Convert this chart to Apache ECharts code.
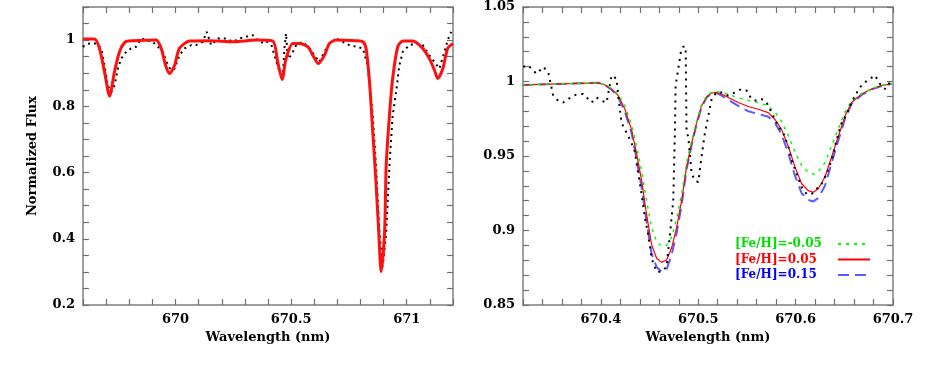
<!DOCTYPE html>
<html>
<head>
<meta charset="utf-8">
<script src="https://cdn.jsdelivr.net/npm/echarts@6/dist/echarts.min.js"></script>
<style>
  html, body { margin: 0; padding: 0; background: #fff; }
  #chart { width: 926px; height: 378px; }
</style>
</head>
<body>
<div id="chart"></div>
<script>
// left panel: wide window, model (red) and observed (dotted)
const leftModelWave = [669.60, 669.65, 669.671, 669.693, 669.715, 669.736, 669.758, 669.784, 669.816, 669.916,
  669.938, 669.957, 669.974, 669.996, 670.017, 670.061, 670.15, 670.248, 670.35, 670.421,
  670.442, 670.461, 670.478, 670.507, 670.536, 670.572, 670.594, 670.618, 670.644, 670.666,
  670.695, 670.78, 670.81, 670.824, 670.839, 670.853, 670.867, 670.879, 670.889, 670.904,
  670.911, 670.925, 670.939, 670.961, 670.983, 671.026, 671.069, 671.098, 671.12, 671.134,
  671.156, 671.177, 671.2];
const leftModelFlux = [1.003, 1.003, 0.975, 0.904, 0.831, 0.904, 0.965, 0.995, 0.998, 1.0,
  0.975, 0.924, 0.899, 0.924, 0.975, 0.997, 0.998, 0.995, 1.0, 0.997,
  0.934, 0.881, 0.944, 0.99, 0.99, 0.98, 0.954, 0.929, 0.954, 0.99,
  1.0, 0.998, 0.995, 0.975, 0.873, 0.722, 0.57, 0.418, 0.301, 0.418,
  0.62, 0.772, 0.884, 0.98, 0.997, 0.997, 0.975, 0.944, 0.909, 0.884,
  0.914, 0.975, 0.99];
const leftObsWave = [669.599, 669.628, 669.657, 669.679, 669.693, 669.707, 669.722, 669.736, 669.751, 669.765,
  669.787, 669.808, 669.83, 669.852, 669.873, 669.902, 669.945, 669.967, 669.981, 669.996,
  670.017, 670.039, 670.068, 670.089, 670.118, 670.135, 670.154, 670.183, 670.219, 670.248,
  670.277, 670.305, 670.334, 670.363, 670.392, 670.406, 670.428, 670.45, 670.464, 670.471,
  670.478, 670.486, 670.5, 670.522, 670.55, 670.579, 670.601, 670.622, 670.644, 670.666,
  670.695, 670.723, 670.752, 670.781, 670.81, 670.831, 670.853, 670.867, 670.882, 670.896,
  670.911, 670.925, 670.939, 670.954, 670.968, 670.983, 671.012, 671.04, 671.069, 671.098,
  671.12, 671.141, 671.163, 671.177, 671.192];
const leftObsFlux = [0.98, 0.99, 0.99, 0.975, 0.924, 0.863, 0.843, 0.863, 0.914, 0.944,
  0.965, 0.975, 0.98, 1.005, 1.0, 0.995, 0.965, 0.924, 0.909, 0.914,
  0.954, 0.975, 0.985, 0.985, 0.995, 1.025, 0.985, 1.005, 1.005, 0.995,
  1.005, 1.01, 1.015, 0.995, 0.99, 1.005, 0.954, 0.904, 0.884, 0.975,
  1.02, 0.944, 0.954, 0.985, 0.995, 0.975, 0.954, 0.934, 0.965, 0.99,
  1.005, 0.995, 0.985, 0.98, 0.975, 0.924, 0.772, 0.62, 0.418, 0.316,
  0.418, 0.62, 0.772, 0.843, 0.924, 0.965, 0.985, 0.99, 0.985, 0.954,
  0.934, 0.914, 0.965, 1.0, 1.025];

// right panel: zoom on 670.32 - 670.70, three [Fe/H] models
const rightModelWave = [670.3185, 670.3973, 670.4041, 670.411, 670.4178, 670.4247, 670.4315, 670.4366, 670.4418, 670.4469,
  670.4521, 670.4572, 670.4623, 670.4675, 670.4726, 670.4777, 670.4829, 670.488, 670.4932, 670.4983,
  670.5034, 670.5086, 670.5137, 670.5188, 670.524, 670.5308, 670.5411, 670.5514, 670.5616, 670.5719,
  670.5788, 670.5856, 670.5925, 670.5993, 670.6062, 670.613, 670.6182, 670.6233, 670.6301, 670.637,
  670.6438, 670.6507, 670.6575, 670.6678, 670.6781, 670.6884, 670.6986];
const fluxFeM005 = [0.9977, 0.9991, 0.9977, 0.9955, 0.9914, 0.9836, 0.9709, 0.9568, 0.94, 0.92,
  0.9018, 0.8927, 0.8895, 0.89, 0.8955, 0.9077, 0.9245, 0.9455, 0.9605, 0.9736,
  0.9845, 0.9905, 0.9927, 0.9932, 0.9927, 0.9914, 0.9891, 0.9873, 0.9859, 0.9836,
  0.9795, 0.9732, 0.9636, 0.9527, 0.9436, 0.9391, 0.9377, 0.9395, 0.9455, 0.9568,
  0.9682, 0.9795, 0.9868, 0.992, 0.9952, 0.9975, 0.9984];
const fluxFe005 = [0.9977, 0.9991, 0.9977, 0.995, 0.9905, 0.9814, 0.9677, 0.9518, 0.9336, 0.9109,
  0.8905, 0.8814, 0.8786, 0.8802, 0.8882, 0.9018, 0.92, 0.9427, 0.9586, 0.9723,
  0.9836, 0.9898, 0.9923, 0.9927, 0.9916, 0.9893, 0.9859, 0.9832, 0.9814, 0.9791,
  0.9745, 0.9677, 0.9564, 0.9427, 0.9314, 0.9268, 0.9257, 0.928, 0.9359, 0.9495,
  0.9632, 0.9768, 0.9859, 0.9916, 0.995, 0.9973, 0.9984];
const fluxFe015 = [0.9977, 0.9991, 0.9977, 0.9945, 0.9895, 0.9795, 0.9655, 0.9482, 0.929, 0.906,
  0.8845, 0.8755, 0.8725, 0.874, 0.8836, 0.898, 0.917, 0.941, 0.9573, 0.9714,
  0.9827, 0.9893, 0.992, 0.9923, 0.9905, 0.9877, 0.9836, 0.98, 0.9782, 0.9764,
  0.9723, 0.9645, 0.9518, 0.9368, 0.925, 0.9205, 0.9195, 0.9218, 0.93, 0.9455,
  0.9605, 0.975, 0.985, 0.991, 0.9948, 0.997, 0.9984];
const rightObsWave = [670.3202, 670.3253, 670.3339, 670.3408, 670.3459, 670.351, 670.3562, 670.3613, 670.3664, 670.3716,
  670.3767, 670.3818, 670.387, 670.3904, 670.3955, 670.4007, 670.4058, 670.411, 670.4161, 670.4178,
  670.4212, 670.4264, 670.4315, 670.4349, 670.4384, 670.4418, 670.4452, 670.4486, 670.4521, 670.4572,
  670.4623, 670.4675, 670.4709, 670.4743, 670.476, 670.4767, 670.4795, 670.4822, 670.4846, 670.487,
  670.488, 670.4897, 670.4932, 670.4966, 670.5, 670.5034, 670.5068, 670.5103, 670.5137, 670.5188,
  670.524, 670.5308, 670.5377, 670.5445, 670.5497, 670.5548, 670.5599, 670.5651, 670.5702, 670.5736,
  670.5771, 670.5822, 670.5873, 670.5925, 670.5959, 670.601, 670.6062, 670.6113, 670.6164, 670.6216,
  670.6267, 670.6318, 670.637, 670.6421, 670.6473, 670.6524, 670.6558, 670.661, 670.6661, 670.6712,
  670.6764, 670.6815, 670.6866, 670.6918, 670.6969];
const rightObsFlux = [1.0098, 1.0109, 1.0052, 1.0098, 1.0064, 0.9905, 0.987, 0.9859, 0.9882, 0.9905,
  0.9916, 0.9916, 0.9882, 0.9859, 0.9893, 0.987, 0.9859, 1.0041, 1.0018, 0.9905,
  0.9723, 0.9655, 0.9586, 0.953, 0.9382, 0.9245, 0.9086, 0.8973, 0.8814, 0.8723,
  0.8723, 0.8757, 0.8973, 0.92, 0.9655, 0.9973, 1.0086, 1.02, 1.0234, 1.0234,
  0.9655, 0.9632, 0.9382, 0.9336, 0.9325, 0.9495, 0.9655, 0.9768, 0.9882, 0.9927,
  0.9927, 0.9905, 0.9927, 0.995, 0.9939, 0.9882, 0.987, 0.9882, 0.9859, 0.9814,
  0.9768, 0.97, 0.9655, 0.9564, 0.9473, 0.9382, 0.9291, 0.9245, 0.9245, 0.928,
  0.9314, 0.9382, 0.9473, 0.9609, 0.9723, 0.978, 0.9836, 0.9905, 0.9961, 0.9995,
  1.0018, 1.0041, 0.9984, 0.995, 0.9995];

const legendNames = ['[Fe/H]=-0.05', '[Fe/H]=0.05', '[Fe/H]=0.15'];
const legendColors = ['#00e000', '#ff0000', '#0000ff'];

// tick labels
const leftXTicks = [670, 670.5, 671];
const leftYTicks = [0.2, 0.4, 0.6, 0.8, 1];
const rightXTicks = [670.4, 670.5, 670.6, 670.7];
const rightYTicks = [0.85, 0.9, 0.95, 1, 1.05];

const font = 'DejaVu Serif';
const pair = (w, f) => w.map((x, i) => [x, f[i]]);

function axis(grid, pos, min, max, step, labels, name) {
  const a = {
    type: 'value', gridIndex: grid, position: pos, min: min, max: max, interval: step,
    axisLine: { show: true, onZero: false, lineStyle: { color: '#808080', width: 1.5 } },
    axisTick: { show: true, inside: true, length: 6, lineStyle: { color: '#707070', width: 1.2 } },
    splitLine: { show: false },
    axisLabel: { show: false }
  };
  if (labels) {
    a.axisLabel = {
      show: true, margin: 8, color: '#000', fontFamily: font, fontWeight: 'bold', fontSize: 13,
      formatter: v => {
        const hit = labels.find(t => Math.abs(t - v) < step / 10);
        return hit === undefined ? '' : String(hit);
      }
    };
  }
  if (name) {
    a.name = name;
    a.nameLocation = 'middle';
    a.nameGap = (pos === 'left') ? 44 : 25;
    a.nameTextStyle = { color: '#000', fontFamily: font, fontWeight: 'bold', fontSize: 13 };
  }
  return a;
}

const option = {
  backgroundColor: '#fff',
  animation: false,
  grid: [
    { left: 83, top: 7, width: 370, height: 298 },
    { left: 523, top: 7, width: 370, height: 298 }
  ],
  xAxis: [
    axis(0, 'bottom', 669.6, 671.2, 0.1, leftXTicks, 'Wavelength (nm)'),
    axis(0, 'top', 669.6, 671.2, 0.1),
    axis(1, 'bottom', 670.32, 670.7, 0.02, rightXTicks, 'Wavelength (nm)'),
    axis(1, 'top', 670.32, 670.7, 0.02)
  ],
  yAxis: [
    axis(0, 'left', 0.2, 1.1, 0.05, leftYTicks, 'Normalized Flux'),
    axis(0, 'right', 0.2, 1.1, 0.05),
    axis(1, 'left', 0.85, 1.05, 0.01, rightYTicks),
    axis(1, 'right', 0.85, 1.05, 0.01)
  ],
  legend: {
    left: 730, top: 233, orient: 'vertical', align: 'right', selectedMode: false,
    itemWidth: 32, itemHeight: 14, itemGap: 3.5,
    itemStyle: { opacity: 0 },
    data: legendNames.map((n, i) => ({ name: n, textStyle: { color: legendColors[i] } })),
    formatter: n => '{t|' + n + '}',
    textStyle: {
      fontFamily: font, fontWeight: 'bold', fontSize: 12,
      rich: { t: { width: 98, align: 'left', fontFamily: font, fontWeight: 'bold', fontSize: 12 } }
    }
  },
  series: [
    {
      type: 'line', xAxisIndex: 0, yAxisIndex: 0, symbol: 'none', silent: true,
      data: pair(leftObsWave, leftObsFlux),
      lineStyle: { color: '#000', width: 2, type: [2, 4] }
    },
    {
      type: 'line', xAxisIndex: 0, yAxisIndex: 0, symbol: 'none', silent: true, smooth: 0.25,
      data: pair(leftModelWave, leftModelFlux),
      lineStyle: { color: '#ff1010', width: 3 }
    },
    {
      name: legendNames[2], type: 'line', xAxisIndex: 2, yAxisIndex: 2, symbol: 'none', silent: true,
      data: pair(rightModelWave, fluxFe015),
      itemStyle: { color: '#5a5aff' },
      lineStyle: { color: '#5a5aff', width: 2, type: [11, 6] }
    },
    {
      name: legendNames[1], type: 'line', xAxisIndex: 2, yAxisIndex: 2, symbol: 'none', silent: true,
      data: pair(rightModelWave, fluxFe005),
      itemStyle: { color: '#ff0000' },
      lineStyle: { color: '#ff0000', width: 1.2 }
    },
    {
      name: legendNames[0], type: 'line', xAxisIndex: 2, yAxisIndex: 2, symbol: 'none', silent: true,
      data: pair(rightModelWave, fluxFeM005),
      itemStyle: { color: '#00ff00' },
      lineStyle: { color: '#00ff00', width: 1.5, type: [3, 5] }
    },
    {
      type: 'line', xAxisIndex: 2, yAxisIndex: 2, symbol: 'none', silent: true,
      data: pair(rightObsWave, rightObsFlux),
      lineStyle: { color: '#000', width: 2, type: [2, 5] }
    }
  ]
};

const chart = echarts.init(document.getElementById('chart'));
chart.setOption(option);
</script>
</body>
</html>
